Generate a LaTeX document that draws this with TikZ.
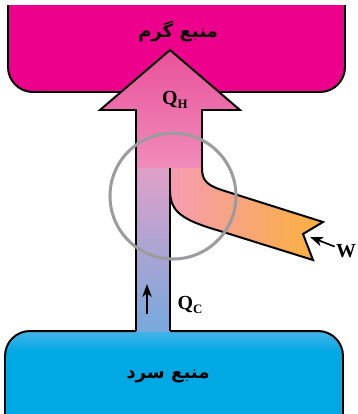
\documentclass[tikz,border=0pt]{standalone}
\usepackage{fontspec}
\usetikzlibrary{arrows.meta}
\setmainfont{Liberation Serif}
\newfontfamily\arabicfont[Script=Arabic]{DejaVu Sans}
\TeXXeTstate=1
\newcommand\subsz{\fontsize{11}{11}\selectfont}
\definecolor{hotc}{HTML}{EC008C}
\definecolor{coldc}{HTML}{00A8E4}
\definecolor{coldtopc}{HTML}{45B4E8}
\definecolor{tipc}{HTML}{E9519A}
\definecolor{pinkc}{HTML}{F08DBA}
\definecolor{mauvec}{HTML}{E0A0C8}
\definecolor{bluec}{HTML}{77A9DD}
\definecolor{workpc}{HTML}{F59BB2}
\definecolor{workoc}{HTML}{FBB13A}
\definecolor{ringc}{HTML}{9C9C9E}

\begin{document}
\begin{tikzpicture}[x=.03cm,y=-.03cm,>={Stealth[length=11pt,width=8pt,inset=3pt]},res/.style={line width=1.7pt,rounded corners=.75cm},edge/.style={line width=1.7pt,line join=miter},lab/.style={font=\fontsize{17}{20}\selectfont\bfseries,inner sep=1pt},rlab/.style={font=\fontsize{15.5}{18}\selectfont\arabicfont\bfseries},arr/.style={->,line width=1.4pt}]
\useasboundingbox (0,0) rectangle (357,414);
\clip (0,0) rectangle (357,414);
\fill[hotc,rounded corners=.75cm] (8,5) -- (8,92) -- (345,92) -- (345,5);
\draw[res] (8,5) -- (8,92) -- (345,92) -- (345,5);
\fill[coldc,rounded corners=.75cm] (5,440) -- (5,331) -- (343,331) -- (343,440);
\begin{scope}
\clip[rounded corners=.75cm] (5,440) -- (5,331) -- (343,331) -- (343,440);
\shade[top color=coldtopc,bottom color=coldc] (0,331) rectangle (357,352);
\end{scope}
\draw[res] (5,440) -- (5,331) -- (136,331);
\draw[res] (170,331) -- (343,331) -- (343,440);
\shade[top color=tipc,bottom color=pinkc] (136,168) -- (136,110) -- (100,110) -- (170,50) -- (240,110) -- (202,110) -- (202,168) -- cycle;
\shade[top color=mauvec,bottom color=bluec] (136,168) rectangle (170,331);
\shade[left color=workpc,right color=workoc] (170,168) -- (202,168) .. controls (202,182) and (208,186) .. (228,192) -- (323,222) -- (303,234) -- (313,260) -- (220,231) .. controls (182,220) and (170,212) .. (170,190) -- cycle;
\draw[edge] (136,331) -- (136,110) -- (100,110) -- (170,50) -- (240,110) -- (202,110) -- (202,168) .. controls (202,182) and (208,186) .. (228,192) -- (323,222) -- (303,234) -- (313,260) -- (220,231) .. controls (182,220) and (170,212) .. (170,190);
\draw[edge] (170,168) -- (170,331);
\draw[ringc,line width=2.6pt] (173,196) circle[radius=63];
\node[rlab] (hot) at (178,31) {\beginR منبع گرم\endR};
\node[rlab] (cold) at (168,376) {\beginR منبع سرد\endR};
\node[lab] (qh) at (175,100) {Q\raisebox{-.45ex}{\subsz H}};
\node[lab] (qc) at (190,305) {Q\raisebox{-.45ex}{\subsz C}};
\node[lab] (w) at (346,251) {W};
\coordinate (notch) at (310,237);
\coordinate (qctail) at (147,314);
\coordinate (qctip) at (147,284);
\draw[arr] (w) -- (notch);
\draw[arr] (qctail) -- (qctip);
\end{tikzpicture}
\end{document}
